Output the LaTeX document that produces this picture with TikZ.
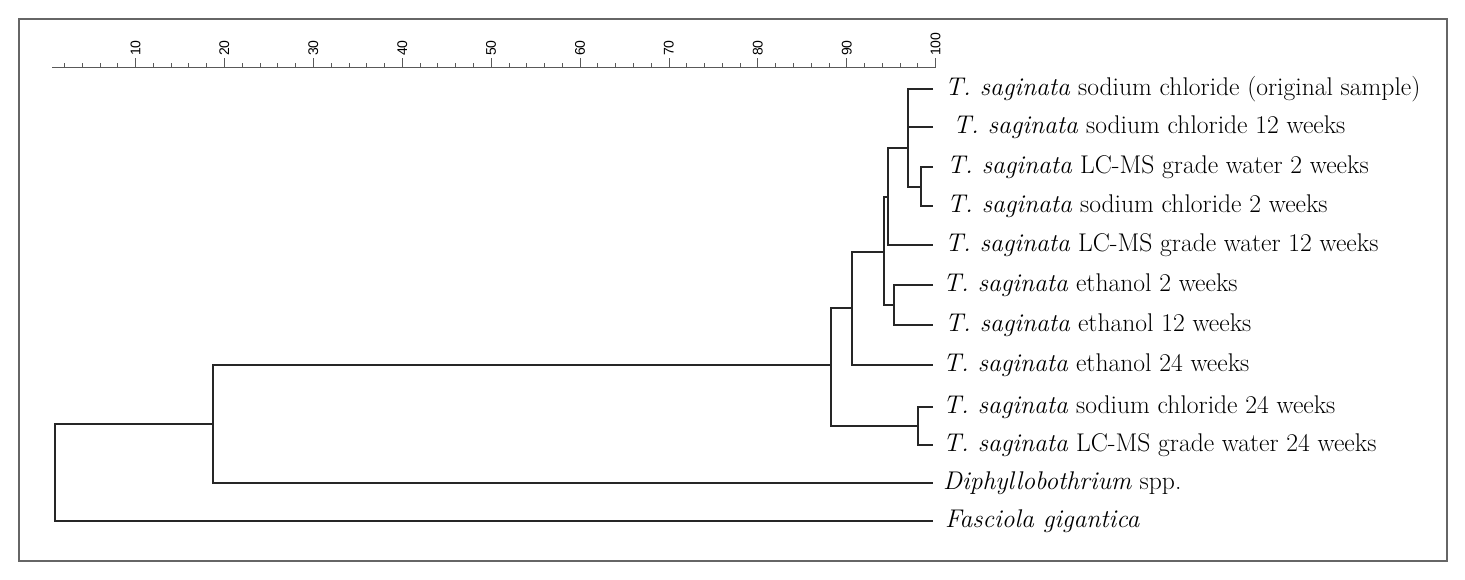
\documentclass[tikz,border=0pt]{standalone}
\usepackage{fontspec}
\newfontfamily\axisfont{Liberation Sans}
\begin{document}
\begin{tikzpicture}[x=1pt,y=-1pt,
  br/.style={line width=1.3pt,black!85},
  lab/.style={anchor=west,inner sep=0pt,font=\fontsize{25.6}{29}\selectfont},
  tk/.style={line width=0.7pt,gray!70!black},
  tl/.style={rotate=90,anchor=west,inner sep=1pt,font=\axisfont\fontsize{14}{16}\selectfont}]
\useasboundingbox (0,0) rectangle (1465,580);
\draw[line width=1.5pt,gray!80!black] (19,19) rectangle (1447,561);
% axis
\coordinate (a0) at (52,67);
\coordinate (a1) at (936,67);
\draw[tk] (a0) -- (a1);
\foreach \i in {1,...,50}{
  \pgfmathsetmacro\xx{46.6+\i*17.78}
  \draw[tk] (\xx,67) -- (\xx,63);}
\foreach \v in {10,20,...,100}{
  \pgfmathsetmacro\xx{46.6+\v*8.89}
  \draw[tk] (\xx,67) -- (\xx,58);
  \node[tl] (t\v) at (\xx,57) {\v};}
% leaves
\foreach \n/\y in {1/89,2/127,3/167,4/206,5/245,6/285,7/325,8/365,9/407,10/445,11/483,12/521}
  \coordinate (L\n) at (933,\y);
\node[lab] (l1) at (945,89) {\textit{T. saginata} sodium chloride (original sample)};
\node[lab] (l2) at (953,127) {\textit{T. saginata} sodium chloride 12 weeks};
\node[lab] (l3) at (947,167) {\textit{T. saginata} LC-MS grade water 2 weeks};
\node[lab] (l4) at (947,206) {\textit{T. saginata} sodium chloride 2 weeks};
\node[lab] (l5) at (945,245) {\textit{T. saginata} LC-MS grade water 12 weeks};
\node[lab] (l6) at (943,285) {\textit{T. saginata} ethanol 2 weeks};
\node[lab] (l7) at (945,325) {\textit{T. saginata} ethanol 12 weeks};
\node[lab] (l8) at (943,365) {\textit{T. saginata} ethanol 24 weeks};
\node[lab] (l9) at (943,407) {\textit{T. saginata} sodium chloride 24 weeks};
\node[lab] (l10) at (943,445) {\textit{T. saginata} LC-MS grade water 24 weeks};
\node[lab] (l11) at (943,483) {\textit{Diphyllobothrium} spp.};
\node[lab] (l12) at (945,521) {\textit{Fasciola gigantica}};
% internal nodes
\coordinate (n34) at (921,187);
\coordinate (n12) at (908,148);
\coordinate (n67) at (894,305);
\coordinate (nC) at (888,197);
\coordinate (nD) at (884,252);
\coordinate (nE) at (852,308);
\coordinate (n910) at (918,426);
\coordinate (nF) at (831,365);
\coordinate (nG) at (213,424);
\coordinate (nH) at (55,424);
\draw[br] (L3) -| (n34) |- (L4);
\draw[br] (L1) -| (908,187) -- (n34);
\draw[br] (L2) -- (908,127);
\draw[br] (n12) -| (nC) |- (L5);
\draw[br] (L6) -| (n67) |- (L7);
\draw[br] (nC) -| (nD) |- (n67);
\draw[br] (nD) -| (nE) |- (L8);
\draw[br] (L9) -| (n910) |- (L10);
\draw[br] (nE) -| (nF) |- (n910);
\draw[br] (nF) -| (nG) |- (L11);
\draw[br] (nG) -- (nH) |- (L12);
\end{tikzpicture}
\end{document}
